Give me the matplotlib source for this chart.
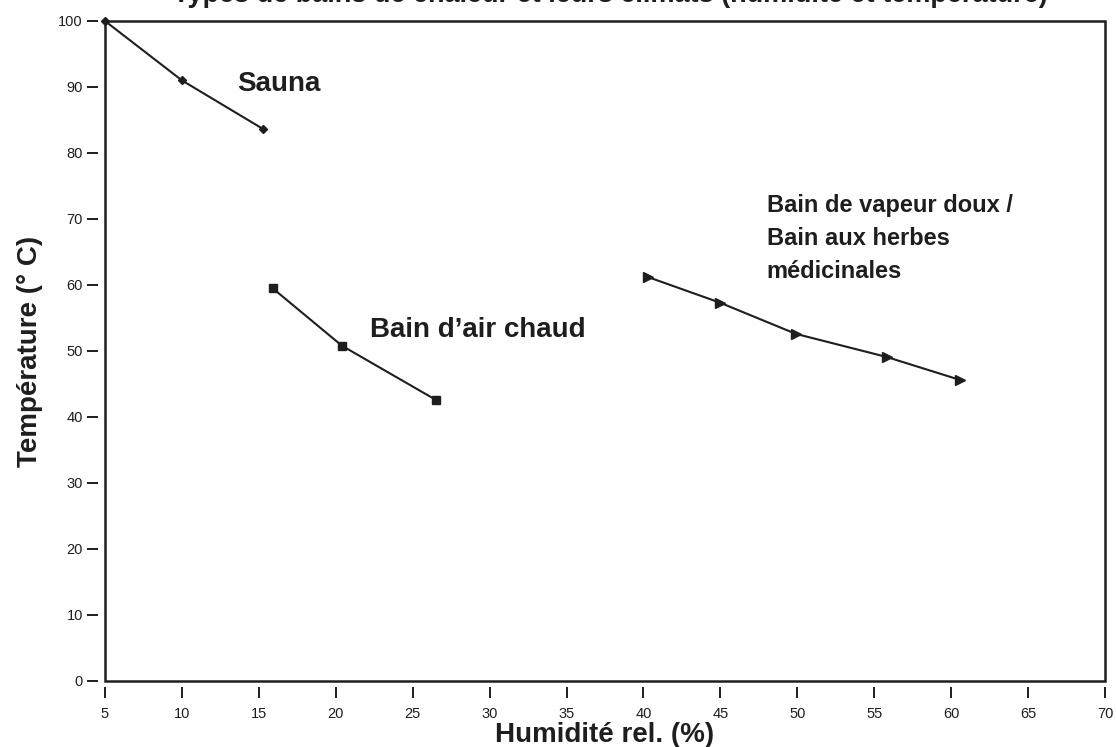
import matplotlib
matplotlib.use("Agg")
import matplotlib.pyplot as plt
from matplotlib.patches import Rectangle

plt.rcParams["font.family"] = ["Liberation Sans", "DejaVu Sans"]

# data
sauna_x = [5, 10, 15.3]
sauna_y = [100, 91, 83.6]
air_x = [15.9, 20.4, 26.5]
air_y = [59.5, 50.8, 42.6]
vap_x = [40.3, 45.0, 49.9, 55.8, 60.6]
vap_y = [61.2, 57.3, 52.6, 49.1, 45.6]
xticks = list(range(5, 71, 5))
yticks = list(range(0, 101, 10))

C = "#1e1e1e"
fig = plt.figure(figsize=(11.16, 7.47), dpi=100)
ax = fig.add_axes([105 / 1116, 1 - 681 / 747, 1000 / 1116, 660 / 747])

ax.plot(sauna_x, sauna_y, "-D", color=C, lw=1.5, ms=4.5, clip_on=False)
ax.plot(air_x, air_y, "-s", color=C, lw=1.5, ms=5.5, clip_on=False)
ax.plot(vap_x, vap_y, "->", color=C, lw=1.5, ms=7, clip_on=False)

ax.set_xlim(5, 70)
ax.set_ylim(0, 100)
ax.set_xticks(xticks)
ax.set_yticks(yticks)

for s in ax.spines.values():
    s.set_visible(False)
# ticks sit a little away from the frame, as in the reference
ax.spines["bottom"].set_position(("outward", 4.3))
ax.spines["left"].set_position(("outward", 5))
ax.add_patch(Rectangle((0, 0), 1, 1, transform=ax.transAxes, fill=False,
                       lw=1.8, ec=C, clip_on=False))
ax.tick_params(direction="out", length=8, width=1.4, color=C, labelsize=10.5,
               labelcolor=C)
ax.tick_params(axis="x", pad=6.5)
ax.tick_params(axis="y", pad=3)

ax.set_xlabel("Humidité rel. (%)", fontsize=20, fontweight="bold", color=C, labelpad=0.5)
ax.set_ylabel("Température (° C)", fontsize=20, fontweight="bold", color=C, labelpad=11)

ax.text(13.6, 90.5, "Sauna", fontsize=20, fontweight="bold", color=C, va="center")
ax.text(22.2, 53.2, "Bain d’air chaud", fontsize=20, fontweight="bold", color=C, va="center")
ax.text(48.0, 73.8, "Bain de vapeur doux /\nBain aux herbes\nmédicinales", fontsize=17,
        fontweight="bold", color=C, va="top", linespacing=1.55)

fig.text(0.547, 0.997, "Types de bains de chaleur et leurs climats (humidité et température)",
         ha="center", va="baseline", fontsize=19.5, fontweight="bold", color=C)

fig.savefig("out.png", dpi=100)
